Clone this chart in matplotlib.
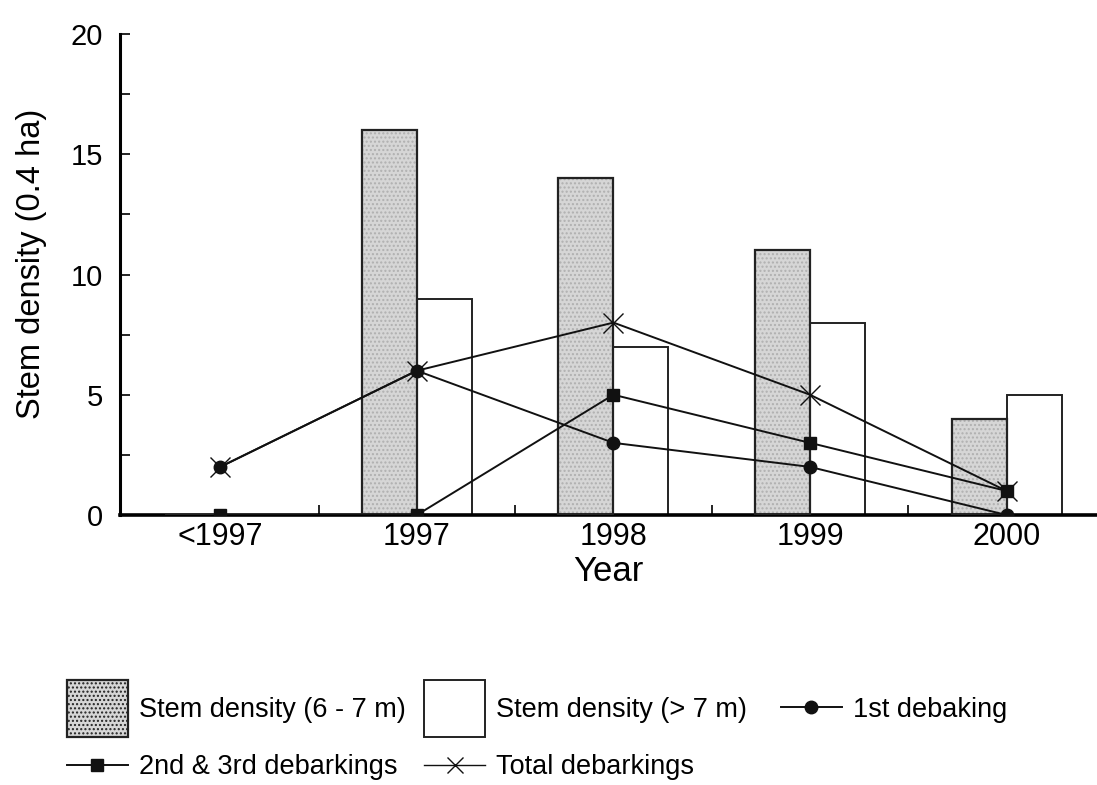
import matplotlib
matplotlib.use("Agg")
import matplotlib.pyplot as plt
import numpy as np
from matplotlib.patches import Patch
from matplotlib.lines import Line2D
from matplotlib.legend_handler import HandlerLine2D

plt.rcParams['font.family'] = ['Liberation Sans', 'DejaVu Sans']

categories = ['<1997', '1997', '1998', '1999', '2000']
density_6_7 = [0, 16, 14, 11, 4]
density_gt7 = [0, 9, 7, 8, 5]
first_debarking = [2, 6, 3, 2, 0]
second_third_debarkings = [0, 0, 5, 3, 1]
total_debarkings = [2, 6, 8, 5, 1]

fig = plt.figure(figsize=(10.97, 7.85), dpi=100)
ax = fig.add_axes([120/1097, 270/785, 977/1097, 481/785])

x = np.arange(len(categories))
w = 0.28
gray = '#d6d6d6'
ax.bar(x - w/2, density_6_7, width=w, color=gray, edgecolor='#b0b0b0', hatch='....', linewidth=0, zorder=2)
ax.bar(x - w/2, density_6_7, width=w, facecolor='none', edgecolor='#222222', linewidth=1.6, zorder=3)
ax.bar(x + w/2, density_gt7, width=w, color='white', edgecolor='#222222', linewidth=1.4, zorder=2)

ax.plot(x, total_debarkings, color='#111111', lw=1.4, marker='x', ms=14, mew=1.0, zorder=5)
ax.plot(x, second_third_debarkings, color='#111111', lw=1.4, marker='s', ms=9, zorder=6)
ax.plot(x, first_debarking, color='#111111', lw=1.4, marker='o', ms=9, zorder=7)

ax.set_xlim(-0.51, 4.46)
ax.set_ylim(0, 20)
ax.set_yticks([0, 5, 10, 15, 20])
ax.set_yticks(np.arange(0, 20.1, 2.5), minor=True)
ax.set_xticks(x)
ax.set_xticklabels(categories)
ax.set_xticks([0.5, 1.5, 2.5, 3.5], minor=True)
ax.tick_params(axis='y', which='both', direction='in', length=7, width=1.2)
ax.tick_params(axis='y', which='major', labelsize=21, pad=12)
ax.tick_params(axis='x', which='major', length=0, labelsize=22, pad=5)
ax.tick_params(axis='x', which='minor', direction='in', length=7, width=1.2)

for s in ['top', 'right']:
    ax.spines[s].set_visible(False)
ax.spines['left'].set_linewidth(2.2)
ax.spines['bottom'].set_linewidth(2.6)

ax.set_ylabel('Stem density (0.4 ha)', fontsize=23.5)
ax.yaxis.set_label_coords(-0.075, 0.523)
ax.set_xlabel('Year', fontsize=25, labelpad=2)


class CenteredLineHandler(HandlerLine2D):
    def create_artists(self, legend, orig_handle, xdescent, ydescent,
                       width, height, fontsize, trans):
        arts = super().create_artists(legend, orig_handle, xdescent, ydescent,
                                      width, height, fontsize, trans)
        for a in arts:
            a.set_ydata(np.full(len(a.get_ydata()), 0.36 * fontsize))
        return arts


legend_kw = dict(loc='upper left', bbox_transform=fig.transFigure, frameon=False,
                 fontsize=19.5, handlelength=2.25, handleheight=2.87,
                 handletextpad=0.4, columnspacing=0.7, labelspacing=0.02,
                 borderpad=0, borderaxespad=0,
                 handler_map={Line2D: CenteredLineHandler()})

h_gray = Patch(facecolor=gray, edgecolor='#222222', linewidth=1.6, hatch='....')
h_white = Patch(facecolor='white', edgecolor='#222222', linewidth=1.4)
h_square = Line2D([], [], color='#111111', lw=1.4, marker='s', ms=9)
h_total = Line2D([], [], color='#111111', lw=1.0, marker='x', ms=12, mew=1.0)
h_circle = Line2D([], [], color='#111111', lw=1.4, marker='o', ms=9)

top = 1 - 680/785
leg1 = fig.legend([h_gray, h_square, h_white, h_total],
                  ['Stem density (6 - 7 m)', '2nd & 3rd debarkings',
                   'Stem density (> 7 m)', 'Total debarkings'],
                  ncol=2, bbox_to_anchor=(67/1097, top), **legend_kw)
leg2 = fig.legend([h_circle], ['1st debaking'],
                  bbox_to_anchor=(781/1097, top), **legend_kw)

fig.savefig('out.png', dpi=100)
